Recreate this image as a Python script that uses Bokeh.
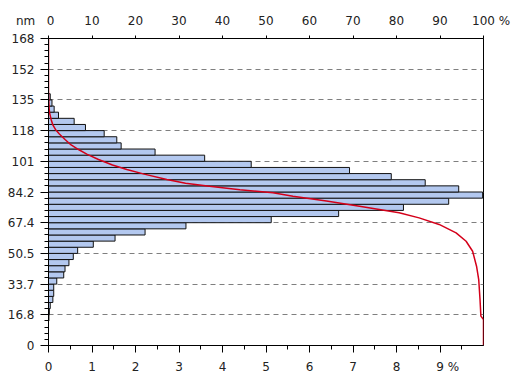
from bokeh.plotting import figure
from bokeh.models import Range1d, LinearAxis, FixedTicker, Grid
from bokeh.embed import file_html
from bokeh.resources import INLINE
import numpy as np

# ---- data ----
bin_width_nm = 3.368
bin_low_nm = [13.47, 16.84, 20.21, 23.58, 26.94, 30.31, 33.68, 37.05, 40.42, 43.78,
              47.15, 50.52, 53.89, 57.26, 60.62, 63.99, 67.36, 70.73, 74.10, 77.46,
              80.83, 84.20, 87.57, 90.94, 94.30, 97.67, 101.04, 104.41, 107.78, 111.14,
              114.51, 117.88, 121.25, 124.62, 127.98, 131.35, 134.72]
freq_pct = [0.01, 0.02, 0.04, 0.10, 0.12, 0.12, 0.19, 0.35, 0.38, 0.47,
            0.57, 0.67, 1.03, 1.53, 2.22, 3.16, 5.12, 6.67, 8.16, 9.20,
            9.98, 9.43, 8.66, 7.88, 6.92, 4.66, 3.59, 2.45, 1.67, 1.57,
            1.28, 0.85, 0.59, 0.23, 0.13, 0.08, 0.04]

curve_nm = [168.4, 140.0, 135.0, 130.0, 127.6, 124.0, 121.0, 118.5, 116.0, 113.0,
            110.0, 107.5, 105.0, 102.0, 99.0, 96.5, 94.0, 91.1, 89.0, 87.4,
            85.5, 83.8, 81.9, 79.2, 76.4, 72.8, 70.0, 66.4, 61.8, 57.2,
            51.7, 43.5, 36.2, 25.2, 16.1, 14.3, 0.0]
curve_pct = [0.0, 0.0, 0.05, 0.15, 0.25, 0.6, 1.0, 1.6, 2.5, 3.8,
             5.2, 6.9, 8.8, 11.5, 14.7, 18.0, 22.0, 27.2, 31.5, 37.0,
             44.0, 51.6, 56.2, 63.9, 71.5, 80.6, 85.2, 89.8, 93.7, 96.0,
             97.5, 98.4, 98.9, 99.2, 99.4, 100.0, 100.0]

y_tick_values = [0, 16.84, 33.68, 50.52, 67.36, 84.2, 101.04, 117.88, 134.72, 151.56, 168.4]
y_tick_labels = ["0", "16.8", "33.7", "50.5", "67.4", "84.2", "101", "118", "135", "152", "168"]
x_tick_values = [0, 1, 2, 3, 4, 5, 6, 7, 8, 9]
x_tick_labels = ["0", "1", "2", "3", "4", "5", "6", "7", "8", "9 %"]
top_tick_values = [0, 10, 20, 30, 40, 50, 60, 70, 80, 90, 100]
top_tick_labels = ["0", "10", "20", "30", "40", "50", "60", "70", "80", "90", "100 %"]
y_unit = "nm"

FONT = "DejaVu Sans"
FSIZE = "12px"
TCOL = "#222222"
NB = "\u00a0"

W, H = 517, 376
p = figure(width=W, height=H, output_backend="svg", toolbar_location=None,
           x_range=Range1d(0, 10), y_range=Range1d(0, 168.4),
           min_border_left=48, min_border_right=34, min_border_top=38, min_border_bottom=30,
           x_axis_location=None, y_axis_location=None)
p.extra_x_ranges = {"pct": Range1d(0, 100)}
p.background_fill_color = "white"
p.border_fill_color = "white"
p.outline_line_color = "black"
p.outline_line_width = 1
p.outline_line_alpha = 1.0
p.xgrid.visible = False
p.ygrid.visible = False

# axes
minor_y = list(np.round(np.arange(0, 51) * bin_width_nm, 3))
left = LinearAxis(ticker=FixedTicker(ticks=y_tick_values, minor_ticks=minor_y))
left.major_label_overrides = {v: l for v, l in zip(y_tick_values, y_tick_labels)}
left.major_tick_out = 8
left.major_tick_in = 0
left.minor_tick_out = 4
left.minor_tick_in = 0
left.major_label_standoff = 6
p.add_layout(left, "left")

# bottom axis; the unit "%" follows the last label ("9 %"), padded so that "9" stays on its tick
bottom_labels = dict(zip(x_tick_values, x_tick_labels))
bottom_labels[9] = NB * 4 + x_tick_labels[-1]
bottom = LinearAxis(ticker=FixedTicker(ticks=x_tick_values,
                                       minor_ticks=[v + 0.5 for v in x_tick_values]))
bottom.major_label_overrides = bottom_labels
bottom.major_tick_out = 7
bottom.major_tick_in = 0
bottom.minor_tick_out = 4
bottom.minor_tick_in = 0
bottom.major_label_standoff = 7
p.add_layout(bottom, "below")

# top axis; "nm" is placed left of the "0" label and "%" after "100"
top_labels = dict(zip(top_tick_values, top_tick_labels))
top_labels[0] = y_unit + NB * 3 + "0" + NB * 7
top_labels[100] = NB * 4 + top_tick_labels[-1]
top = LinearAxis(x_range_name="pct", ticker=FixedTicker(ticks=top_tick_values, minor_ticks=[]))
top.major_label_overrides = top_labels
top.major_tick_out = 3
top.major_tick_in = 0
top.minor_tick_out = 0
top.major_label_standoff = 8
p.add_layout(top, "above")

for ax in (left, bottom, top):
    ax.axis_line_color = "black"
    ax.major_tick_line_color = "black"
    ax.minor_tick_line_color = "black"
    ax.major_label_text_font = FONT
    ax.major_label_text_font_size = FSIZE
    ax.major_label_text_color = TCOL

# dashed horizontal grid lines
g = Grid(dimension=1, ticker=FixedTicker(ticks=y_tick_values[1:-1]),
         grid_line_color="#7f7f7f", grid_line_dash="5 4", grid_line_width=1)
p.add_layout(g)

# bars
centers = [b + bin_width_nm / 2 for b in bin_low_nm]
p.hbar(y=centers, height=bin_width_nm, left=0, right=freq_pct,
       fill_color="#b3c8ef", line_color="#111111", line_width=1)

# cumulative curve
p.line(x=curve_pct, y=curve_nm, x_range_name="pct", line_color="#d4001a", line_width=1.5)

open("out.html", "w").write(file_html(p, INLINE))
